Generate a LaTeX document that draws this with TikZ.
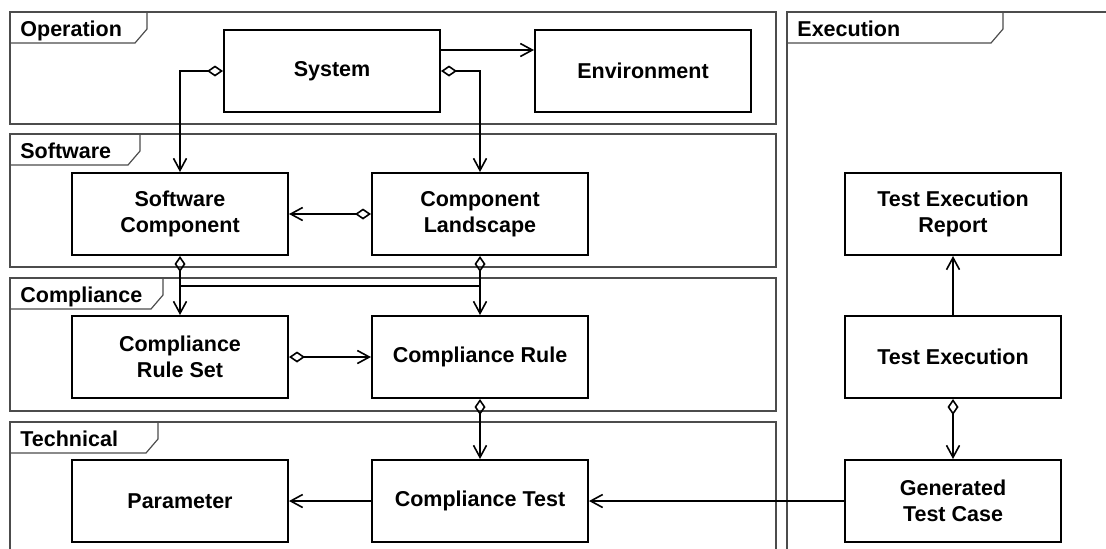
\documentclass[tikz,border=0pt]{standalone}
\usepackage{fontspec}
\setmainfont{Liberation Sans}
\usetikzlibrary{arrows.meta}
\begin{document}
\begin{tikzpicture}[x=0.5pt, y=-0.5pt, font=\bfseries\fontsize{10.75}{13}\selectfont,
	box/.style={draw, line width=1pt, minimum width=108pt, minimum height=41pt, align=center, inner sep=0pt},
	pkg/.style={draw=black!70, line width=0.6pt},
	assoc/.style={line width=0.8pt, -{Straight Barb[length=6pt,width=6.5pt]}},
	agg/.style={line width=0.8pt, {Diamond[open,length=8pt,width=5.5pt]}-{Straight Barb[length=6pt,width=6.5pt]}}]
	\useasboundingbox (0,0) rectangle (1106,548);
	\clip (0,0) rectangle (1106,548);
	% packages with their tabs
	\foreach \txt/\l/\t/\r/\b/\tr in {Operation/10/12/776/124/147, Software/10/134/776/267/140, Compliance/10/278/776/411/163, Technical/10/422/776/570/158, Execution/787/12/1130/570/1003} {
		\draw[pkg] (\l,\t) rectangle (\r,\b);
		\draw[pkg] (\l,\t+31) -- (\tr-12,\t+31) -- (\tr,\t+17) -- (\tr,\t);
		\node[anchor=base west, inner sep=0pt] (pk\txt) at (\l+10,\t+24) {\txt};
	}
	% classes
	\node[box] (System) at (332,71) {System};
	\node[box] (Environment) at (643,71) {Environment};
	\node[box] (SWComp) at (180,214) {Software\\Component};
	\node[box] (Landscape) at (480,214) {Component\\Landscape};
	\node[box] (RuleSet) at (180,357) {Compliance\\Rule Set};
	\node[box] (Rule) at (480,357) {Compliance Rule};
	\node[box] (Parameter) at (180,501) {Parameter};
	\node[box] (Test) at (480,501) {Compliance Test};
	\node[box] (Report) at (953,214) {Test Execution\\Report};
	\node[box] (TestExec) at (953,357) {Test Execution};
	\node[box] (Generated) at (953,501) {Generated\\Test Case};
	\coordinate (crossL) at (180,286);
	\coordinate (crossR) at (480,286);
	% relations
	\draw[assoc] ([yshift=10.5pt]System.east) -- ([yshift=10.5pt]Environment.west);
	\draw[agg] (System.west) -| (SWComp.north);
	\draw[agg] (System.east) -| (Landscape.north);
	\draw[agg] (Landscape) -- (SWComp);
	\draw[agg] (SWComp.south) |- (crossR) -- (Rule.north);
	\draw[agg] (Landscape.south) |- (crossL) -- (RuleSet.north);
	\draw[agg] (RuleSet) -- (Rule);
	\draw[agg] (Rule) -- (Test);
	\draw[assoc] (Test) -- (Parameter);
	\draw[assoc] (Generated) -- (Test);
	\draw[assoc] (TestExec) -- (Report);
	\draw[agg] (TestExec) -- (Generated);
\end{tikzpicture}
\end{document}
